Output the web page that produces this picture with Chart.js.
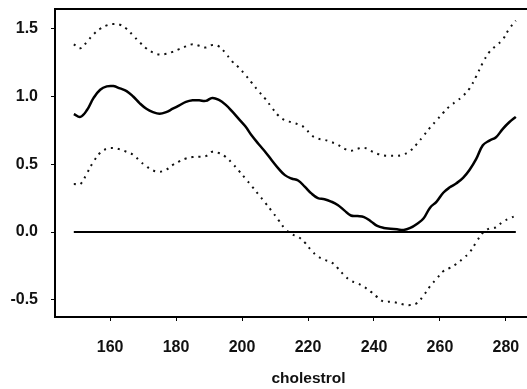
<!DOCTYPE html>
<html>
<head>
<meta charset="utf-8">
<script src="https://cdn.jsdelivr.net/npm/chart.js@4.4.1/dist/chart.umd.min.js"></script>
<style>
  html, body { margin: 0; padding: 0; background: #fff; overflow: hidden; }
  #wrap { width: 565px; height: 389px; }
</style>
</head>
<body>
<div id="wrap"><canvas id="grafico" width="565" height="389"></canvas></div>
<script>
// valores de colesterol (eixo x)
const cholesterol = [149, 151, 153, 155, 157, 159, 161, 163, 165, 167, 169, 171, 173, 175, 177, 179, 181, 183, 185, 187,
    189, 191, 193, 195, 197, 199, 201, 203, 205, 207, 209, 211, 213, 215, 217, 219, 221, 223, 225, 227,
    229, 231, 233, 235, 237, 239, 241, 243, 245, 247, 249, 251, 253, 255, 257, 259, 261, 263, 265, 267,
    269, 271, 273, 275, 277, 279, 281, 283];

// curva estimada (linha cheia)
const estimate = [0.87, 0.85, 0.90, 0.99, 1.05, 1.075, 1.077, 1.06, 1.04, 1.00, 0.95, 0.91, 0.885, 0.873, 0.885, 0.91, 0.935, 0.96, 0.972, 0.972,
    0.968, 0.99, 0.975, 0.94, 0.89, 0.835, 0.78, 0.71, 0.65, 0.593, 0.53, 0.47, 0.42, 0.395, 0.38, 0.335, 0.285, 0.25, 0.242, 0.225,
    0.20, 0.16, 0.122, 0.118, 0.11, 0.08, 0.045, 0.03, 0.025, 0.02, 0.015, 0.03, 0.06, 0.10, 0.18, 0.225, 0.29, 0.33, 0.36, 0.40,
    0.46, 0.54, 0.64, 0.675, 0.70, 0.76, 0.81, 0.85];

// banda superior (pontilhada)
const upper = [1.385, 1.356, 1.405, 1.46, 1.50, 1.525, 1.535, 1.53, 1.50, 1.45, 1.40, 1.355, 1.325, 1.31, 1.315, 1.33, 1.35, 1.37, 1.385, 1.375,
    1.362, 1.38, 1.37, 1.32, 1.26, 1.215, 1.16, 1.10, 1.04, 0.985, 0.92, 0.86, 0.825, 0.81, 0.795, 0.77, 0.715, 0.69, 0.68, 0.665,
    0.645, 0.615, 0.60, 0.615, 0.622, 0.60, 0.578, 0.565, 0.563, 0.563, 0.573, 0.60, 0.65, 0.71, 0.77, 0.825, 0.88, 0.93, 0.965, 1.005,
    1.06, 1.15, 1.25, 1.33, 1.375, 1.42, 1.50, 1.56];

// banda inferior (pontilhada)
const lower = [0.354, 0.354, 0.435, 0.52, 0.585, 0.615, 0.62, 0.61, 0.592, 0.57, 0.525, 0.485, 0.455, 0.445, 0.46, 0.495, 0.522, 0.543, 0.553, 0.556,
    0.56, 0.593, 0.583, 0.555, 0.508, 0.453, 0.395, 0.337, 0.277, 0.217, 0.155, 0.09, 0.025, -0.015, -0.035, -0.077, -0.135, -0.18, -0.205, -0.222,
    -0.265, -0.32, -0.36, -0.378, -0.405, -0.44, -0.48, -0.514, -0.514, -0.522, -0.535, -0.539, -0.525, -0.47, -0.40, -0.345, -0.29, -0.265, -0.235, -0.195,
    -0.15, -0.075, -0.005, 0.027, 0.035, 0.075, 0.10, 0.12];

// linha de referência em zero
const zeroX = [149, 283];
const zeroY = [0, 0];

// rótulos dos eixos
const xTicks = [160, 180, 200, 220, 240, 260, 280];
const yTicks = [-0.5, 0.0, 0.5, 1.0, 1.5];

function toPoints(xs, ys) {
    return xs.map((x, i) => ({ x: x, y: ys[i] }));
}

// Plugin para desenhar a moldura em volta da área do gráfico
const frame = {
    id: 'frame',
    afterDatasetsDraw(chart) {
        const { ctx, chartArea } = chart;
        ctx.save();
        ctx.strokeStyle = '#000';
        ctx.lineWidth = 2;
        ctx.strokeRect(chartArea.left, chartArea.top, chartArea.right - chartArea.left, chartArea.bottom - chartArea.top);
        ctx.restore();
    }
};

const fontTicks = { family: "'Liberation Sans', Arial, sans-serif", size: 16, weight: 'bold' };

new Chart(document.getElementById('grafico').getContext('2d'), {
    type: 'line',
    data: {
        datasets: [
            {
                data: toPoints(zeroX, zeroY),
                borderColor: '#000',
                borderWidth: 2,
                pointRadius: 0
            },
            {
                data: toPoints(cholesterol, upper),
                borderColor: '#111',
                borderWidth: 2,
                borderDash: [2, 5],
                pointRadius: 0,
                tension: 0.4
            },
            {
                data: toPoints(cholesterol, lower),
                borderColor: '#111',
                borderWidth: 2,
                borderDash: [2, 5],
                pointRadius: 0,
                tension: 0.4
            },
            {
                data: toPoints(cholesterol, estimate),
                borderColor: '#000',
                borderWidth: 2.5,
                pointRadius: 0,
                tension: 0.4
            }
        ]
    },
    options: {
        responsive: false,
        animation: false,
        layout: { padding: { top: 9, right: 3, left: 0, bottom: 0 } },
        plugins: {
            legend: { display: false },
            tooltip: { enabled: false }
        },
        scales: {
            x: {
                type: 'linear',
                min: 143.3,
                max: 297,
                afterBuildTicks: axis => { axis.ticks = xTicks.map(v => ({ value: v })); },
                afterFit: axis => { axis.height = 72; axis.paddingLeft = 0; axis.paddingRight = 0; },
                grid: { drawOnChartArea: false, drawTicks: true, tickLength: 4, color: '#000' },
                border: { display: false },
                ticks: { color: '#111', font: fontTicks, padding: 17, maxRotation: 0 },
                title: {
                    display: true,
                    text: 'cholestrol',
                    color: '#111',
                    font: { family: "'Liberation Sans', Arial, sans-serif", size: 15.5, weight: 'bold' },
                    padding: { top: 13, bottom: 1 }
                }
            },
            y: {
                min: -0.627,
                max: 1.646,
                afterBuildTicks: axis => { axis.ticks = yTicks.map(v => ({ value: v })); },
                afterFit: axis => { axis.width = 55; axis.paddingTop = 0; axis.paddingBottom = 0; },
                grid: { drawOnChartArea: false, drawTicks: true, tickLength: 4, color: '#000' },
                border: { display: false },
                ticks: { color: '#111', font: fontTicks, padding: 13, callback: v => v.toFixed(1) }
            }
        }
    },
    plugins: [frame]
});
</script>
</body>
</html>
